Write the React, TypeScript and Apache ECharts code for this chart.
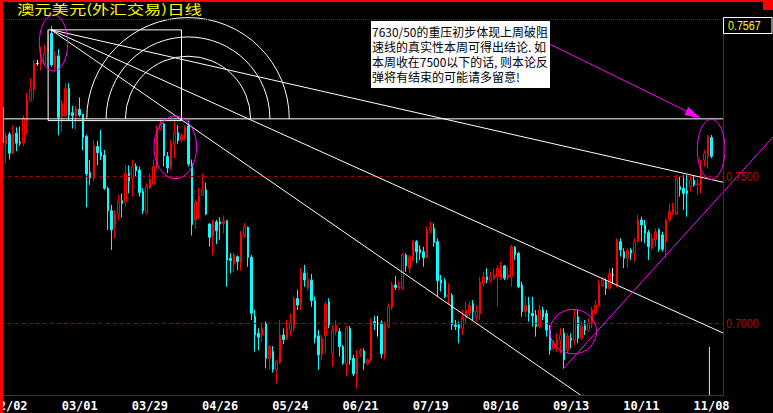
import React, { useEffect, useRef } from 'react';
import * as echarts from 'echarts';

// ---------- data ----------
const START_DATE = '2004-01-29';
const N_CATEGORIES = 206;
const TICK_LABELS = ['02/02', '03/01', '03/29', '04/26', '05/24', '06/21', '07/19', '08/16', '09/13', '10/11', '11/08'];

const OPEN = [
  0.7733,
  0.7609, 0.7642, 0.7577, 0.7645, 0.7615, 0.7613, 0.7683, 0.7758, 0.7794, 0.7882,
  0.7880, 0.7882, 0.7916, 0.7984, 0.7871, 0.7907, 0.7701, 0.7704, 0.7797, 0.7715,
  0.7704, 0.7726, 0.7709, 0.7634, 0.7511, 0.7493, 0.7600, 0.7581, 0.7571, 0.7458,
  0.7382, 0.7335, 0.7371, 0.7416, 0.7412, 0.7511, 0.7491, 0.7534, 0.7520, 0.7447,
  0.7378, 0.7459, 0.7473, 0.7532, 0.7659, 0.7677, 0.7566, 0.7532, 0.7611, 0.7647,
  0.7622, 0.7627, 0.7670, 0.7541, 0.7351, 0.7414, 0.7434, 0.7453, 0.7337, 0.7294,
  0.7344, 0.7344, 0.7339, 0.7348, 0.7220, 0.7201, 0.7226, 0.7205, 0.7300, 0.7326,
  0.7224, 0.7024, 0.6966, 0.6960, 0.6998, 0.6881, 0.6904, 0.6842, 0.6867, 0.6960,
  0.6949, 0.6977, 0.6983, 0.7084, 0.7068, 0.7170, 0.7119, 0.7147, 0.7077, 0.6957,
  0.6895, 0.6957, 0.7074, 0.6898, 0.6971, 0.6972, 0.6921, 0.6862, 0.6983, 0.6881,
  0.6828, 0.6898, 0.6906, 0.6864, 0.6873, 0.7006, 0.6998, 0.7002, 0.6896, 0.6991,
  0.7054, 0.7130, 0.7119, 0.7121, 0.7232, 0.7187, 0.7213, 0.7277, 0.7251, 0.7243,
  0.7224, 0.7315, 0.7322, 0.7277, 0.7147, 0.7145, 0.7090, 0.7095, 0.6994, 0.6994,
  0.6983, 0.7017, 0.7034, 0.7068, 0.7022, 0.7034, 0.7136, 0.7158, 0.7147, 0.7153,
  0.7158, 0.7153, 0.7195, 0.7156, 0.7158, 0.7258, 0.7238, 0.7130, 0.7040, 0.7062,
  0.7034, 0.7028, 0.6989, 0.7045, 0.7034, 0.6977, 0.6915, 0.6926, 0.6943, 0.6966,
  0.6909, 0.6949, 0.6943, 0.7022, 0.6949, 0.6991, 0.6977, 0.6998, 0.7034, 0.7062,
  0.7130, 0.7141, 0.7119, 0.7164, 0.7130, 0.7277, 0.7243, 0.7221, 0.7249, 0.7238,
  0.7277, 0.7351, 0.7334, 0.7308, 0.7255, 0.7283, 0.7317, 0.7300, 0.7277, 0.7351,
  0.7376, 0.7371, 0.7464, 0.7458, 0.7450, 0.7464, 0.7486, 0.7470, 0.7470, 0.7554,
  0.7566, 0.7631,
];
const CLOSE = [
  0.7613,
  0.7636, 0.7577, 0.7642, 0.7611, 0.7611, 0.7695, 0.7758, 0.7794, 0.7882, 0.7882,
  0.7896, 0.7916, 0.7980, 0.7877, 0.7907, 0.7699, 0.7747, 0.7797, 0.7707, 0.7705,
  0.7730, 0.7707, 0.7631, 0.7507, 0.7494, 0.7604, 0.7579, 0.7568, 0.7458, 0.7382,
  0.7317, 0.7371, 0.7414, 0.7407, 0.7509, 0.7482, 0.7532, 0.7518, 0.7444, 0.7382,
  0.7464, 0.7489, 0.7532, 0.7661, 0.7677, 0.7568, 0.7527, 0.7611, 0.7647, 0.7620,
  0.7638, 0.7666, 0.7541, 0.7335, 0.7412, 0.7434, 0.7453, 0.7371, 0.7292, 0.7344,
  0.7314, 0.7337, 0.7347, 0.7215, 0.7213, 0.7232, 0.7209, 0.7303, 0.7327, 0.7224,
  0.7034, 0.6960, 0.6953, 0.6983, 0.6881, 0.6921, 0.6844, 0.6870, 0.6960, 0.6945,
  0.6983, 0.7002, 0.7084, 0.7062, 0.7170, 0.7147, 0.7149, 0.7077, 0.6949, 0.6893,
  0.6949, 0.7066, 0.6994, 0.6977, 0.6994, 0.6921, 0.6864, 0.6983, 0.6876, 0.6828,
  0.6889, 0.6906, 0.6864, 0.6876, 0.7006, 0.6997, 0.6998, 0.6896, 0.6994, 0.7056,
  0.7130, 0.7121, 0.7127, 0.7232, 0.7195, 0.7226, 0.7277, 0.7243, 0.7240, 0.7223,
  0.7317, 0.7326, 0.7274, 0.7145, 0.7136, 0.7090, 0.7096, 0.6994, 0.6989, 0.6983,
  0.7017, 0.7045, 0.7062, 0.7040, 0.7040, 0.7140, 0.7158, 0.7147, 0.7158, 0.7164,
  0.7187, 0.7195, 0.7153, 0.7164, 0.7260, 0.7232, 0.7124, 0.7040, 0.7062, 0.7034,
  0.7025, 0.6989, 0.7045, 0.7022, 0.6977, 0.6909, 0.6932, 0.6943, 0.6960, 0.6876,
  0.6957, 0.6943, 0.7019, 0.6949, 0.6991, 0.6977, 0.7000, 0.7045, 0.7062, 0.7136,
  0.7147, 0.7119, 0.7170, 0.7164, 0.7283, 0.7249, 0.7221, 0.7247, 0.7238, 0.7277,
  0.7351, 0.7334, 0.7305, 0.7260, 0.7289, 0.7311, 0.7251, 0.7251, 0.7351, 0.7379,
  0.7396, 0.7492, 0.7453, 0.7441, 0.7441, 0.7486, 0.7470, 0.7475, 0.7509, 0.7577,
  0.7634, 0.7567,
];
const LOW = [
  0.7609,
  0.7541, 0.7556, 0.7575, 0.7584, 0.7602, 0.7602, 0.7641, 0.7753, 0.7760, 0.7875,
  0.7860, 0.7878, 0.7871, 0.7871, 0.7860, 0.7638, 0.7650, 0.7701, 0.7690, 0.7661,
  0.7656, 0.7701, 0.7588, 0.7394, 0.7470, 0.7482, 0.7537, 0.7554, 0.7453, 0.7317,
  0.7249, 0.7288, 0.7351, 0.7360, 0.7396, 0.7441, 0.7430, 0.7498, 0.7430, 0.7371,
  0.7371, 0.7457, 0.7467, 0.7523, 0.7654, 0.7532, 0.7509, 0.7520, 0.7560, 0.7609,
  0.7613, 0.7620, 0.7532, 0.7298, 0.7321, 0.7355, 0.7432, 0.7367, 0.7260, 0.7231,
  0.7269, 0.7283, 0.7305, 0.7124, 0.7170, 0.7173, 0.7181, 0.7179, 0.7290, 0.7192,
  0.7011, 0.6904, 0.6909, 0.6938, 0.6847, 0.6842, 0.6833, 0.6796, 0.6862, 0.6930,
  0.6943, 0.6955, 0.6972, 0.7045, 0.7045, 0.7124, 0.7111, 0.7056, 0.6932, 0.6842,
  0.6876, 0.6898, 0.6983, 0.6853, 0.6960, 0.6887, 0.6859, 0.6820, 0.6859, 0.6821,
  0.6779, 0.6887, 0.6842, 0.6859, 0.6870, 0.6977, 0.6955, 0.6881, 0.6878, 0.6983,
  0.7045, 0.7113, 0.7113, 0.7113, 0.7175, 0.7170, 0.7209, 0.7204, 0.7215, 0.7192,
  0.7221, 0.7305, 0.7260, 0.7090, 0.7108, 0.7085, 0.7062, 0.6977, 0.6977, 0.6932,
  0.6960, 0.7000, 0.7022, 0.7011, 0.7006, 0.7011, 0.7124, 0.7136, 0.7136, 0.7147,
  0.7056, 0.7147, 0.7147, 0.7147, 0.7124, 0.7215, 0.7119, 0.7022, 0.7022, 0.7006,
  0.6989, 0.6955, 0.6983, 0.7011, 0.6955, 0.6893, 0.6909, 0.6904, 0.6898, 0.6847,
  0.6898, 0.6915, 0.6926, 0.6932, 0.6943, 0.6960, 0.6972, 0.6983, 0.7028, 0.7056,
  0.7124, 0.7096, 0.7113, 0.7136, 0.7124, 0.7226, 0.7187, 0.7187, 0.7215, 0.7209,
  0.7272, 0.7277, 0.7272, 0.7215, 0.7249, 0.7260, 0.7243, 0.7243, 0.7221, 0.7345,
  0.7368, 0.7368, 0.7430, 0.7385, 0.7362, 0.7447, 0.7464, 0.7436, 0.7441, 0.7532,
  0.7526, 0.7560,
];
const HIGH = [
  0.7738,
  0.7647, 0.7649, 0.7672, 0.7665, 0.7668, 0.7706, 0.7783, 0.7832, 0.7894, 0.7894,
  0.7939, 0.7946, 0.7996, 0.8009, 0.7923, 0.7930, 0.7758, 0.7815, 0.7815, 0.7738,
  0.7740, 0.7767, 0.7710, 0.7640, 0.7554, 0.7622, 0.7620, 0.7656, 0.7588, 0.7464,
  0.7402, 0.7385, 0.7436, 0.7441, 0.7536, 0.7536, 0.7554, 0.7543, 0.7532, 0.7458,
  0.7475, 0.7509, 0.7554, 0.7672, 0.7688, 0.7679, 0.7582, 0.7622, 0.7685, 0.7672,
  0.7645, 0.7672, 0.7688, 0.7556, 0.7421, 0.7459, 0.7509, 0.7477, 0.7339, 0.7351,
  0.7351, 0.7360, 0.7366, 0.7351, 0.7238, 0.7240, 0.7230, 0.7314, 0.7340, 0.7328,
  0.7232, 0.7045, 0.6983, 0.7002, 0.7006, 0.6926, 0.6923, 0.6876, 0.7011, 0.6983,
  0.7011, 0.7034, 0.7090, 0.7113, 0.7187, 0.7198, 0.7175, 0.7168, 0.7090, 0.6977,
  0.6960, 0.7074, 0.7085, 0.6994, 0.7011, 0.6983, 0.6926, 0.6991, 0.6991, 0.6893,
  0.6909, 0.6915, 0.6915, 0.6881, 0.7017, 0.7025, 0.7025, 0.7011, 0.7006, 0.7068,
  0.7141, 0.7161, 0.7141, 0.7238, 0.7238, 0.7232, 0.7283, 0.7283, 0.7265, 0.7260,
  0.7328, 0.7345, 0.7339, 0.7289, 0.7164, 0.7153, 0.7136, 0.7102, 0.7011, 0.7006,
  0.7045, 0.7074, 0.7074, 0.7079, 0.7062, 0.7158, 0.7175, 0.7187, 0.7175, 0.7187,
  0.7198, 0.7209, 0.7198, 0.7192, 0.7266, 0.7262, 0.7243, 0.7141, 0.7090, 0.7090,
  0.7090, 0.7045, 0.7062, 0.7056, 0.7045, 0.6994, 0.6943, 0.6966, 0.6983, 0.6983,
  0.6966, 0.6966, 0.7045, 0.7045, 0.7006, 0.7011, 0.7017, 0.7056, 0.7079, 0.7147,
  0.7158, 0.7153, 0.7187, 0.7187, 0.7289, 0.7289, 0.7255, 0.7255, 0.7255, 0.7289,
  0.7368, 0.7362, 0.7351, 0.7317, 0.7305, 0.7322, 0.7322, 0.7311, 0.7356, 0.7407,
  0.7410, 0.7503, 0.7498, 0.7503, 0.7503, 0.7498, 0.7503, 0.7492, 0.7554, 0.7588,
  0.7639, 0.7639,
];

const PRICE_LINES = [0.75, 0.7];
const PRICE_MIN = 0.675662;
const PRICE_MAX = 0.803293;

const TITLE = '澳元美元(外汇交易)日线';
const NOTE_LINES = [
  '7630/50的重压初步体现上周破阻',
  '速线的真实性本周可得出结论. 如',
  '本周收在7500以下的话, 则本论反',
  '弹将有结束的可能请多留意!',
];

// annotations, anchored as [bar index (0 = 01/30), price]
const FAN_ORIGIN: [number, number] = [12.7, 0.7997];
const FAN_TARGETS: [number, number][] = [[204.2, 0.7479], [204.85, 0.6964], [163.6, 0.6757]];
const FIB_END: [number, number] = [51.85, 0.7694];
const FIB_RATIOS = [0.382, 0.5, 0.618];
const LEVEL_LINE = 0.7694;
const BOX: [number, number][] = [[12, 0.7996], [50, 0.7688]];
const SUPPORT: [number, number][] = [[158.6, 0.6844], [204.85, 0.74525]];
const ARROW: [number, number][] = [[154.5, 0.795], [197.5, 0.7699]];
// [bar, price, half-width in bars, half-height in price]
const ELLIPSES: number[][] = [
  [13.53, 0.79515, 4.05, 0.0095],
  [48.23, 0.75974, 6.07, 0.01062],
  [161.6, 0.69718, 6.64, 0.00754],
  [200.9, 0.75906, 3.93, 0.01018],
];
const MARKER_BAR: [number, number] = [200.4, 0.692];

// ---------- layout ----------
const W = 773;
const H = 413;
const PLOT = { left: 3, top: 19, right: 723, bottom: 395 };

function weekdayLabels(start: string, n: number): string[] {
  const out: string[] = [];
  const d = new Date(start + 'T00:00:00Z');
  while (out.length < n) {
    const wd = d.getUTCDay();
    if (wd !== 0 && wd !== 6) {
      out.push(String(d.getUTCMonth() + 1).padStart(2, '0') + '/' + String(d.getUTCDate()).padStart(2, '0'));
    }
    d.setUTCDate(d.getUTCDate() + 1);
  }
  return out;
}

let measureCtx: CanvasRenderingContext2D | null = null;
function measure(text: string, font: string): number {
  if (!measureCtx) measureCtx = document.createElement('canvas').getContext('2d');
  if (!measureCtx) return text.length * 10;
  measureCtx.font = font;
  return measureCtx.measureText(text).width;
}

function extendTo(p0: number[], p1: number[], xMax: number, yMax: number): number[] {
  const dx = p1[0] - p0[0];
  const dy = p1[1] - p0[1];
  let t = dx > 0 ? (xMax - p0[0]) / dx : Infinity;
  if (dy > 0) t = Math.min(t, (yMax - p0[1]) / dy);
  return [p0[0] + t * dx, p0[1] + t * dy];
}

function buildGraphic(chart: any): any[] {
  const finder = { seriesIndex: 0 };
  const toPx = (i: number, p: number): number[] => {
    const a = chart.convertToPixel(finder, [0, p]) as number[];
    const b = chart.convertToPixel(finder, [1, p]) as number[];
    return [a[0] + (i + 1) * (b[0] - a[0]), a[1]];
  };
  const band = toPx(1, 0.75)[0] - toPx(0, 0.75)[0];
  const els: any[] = [];
  const line = (x1: number, y1: number, x2: number, y2: number, stroke: string, extra: any = {}) => ({
    type: 'line', z: 100, silent: true,
    shape: { x1, y1, x2, y2 },
    style: { stroke, lineWidth: 1, ...extra },
  });
  const text = (x: number, y: number, t: string, fill: string, size: number, family: string, scaleX: number, z = 120, lineHeight?: number) => ({
    type: 'text', z, silent: true, x, y, scaleX,
    style: {
      text: t, fill, fontSize: size, fontFamily: family,
      align: 'left', verticalAlign: 'middle', textAlign: 'left', textVerticalAlign: 'middle',
      ...(lineHeight ? { lineHeight } : {}),
    },
  });

  // horizontal level line
  const yLevel = toPx(0, LEVEL_LINE)[1];
  els.push(line(PLOT.left, yLevel, PLOT.right, yLevel, '#ffffff'));

  // box
  const b0 = toPx(BOX[0][0], BOX[0][1]);
  const b1 = toPx(BOX[1][0], BOX[1][1]);
  els.push({
    type: 'rect', z: 100, silent: true,
    shape: { x: b0[0], y: b0[1], width: b1[0] - b0[0], height: b1[1] - b0[1] },
    style: { stroke: '#ffffff', fill: 'none', lineWidth: 1 },
  });

  // fan lines
  const o = toPx(FAN_ORIGIN[0], FAN_ORIGIN[1]);
  FAN_TARGETS.forEach((t) => {
    const e = extendTo(o, toPx(t[0], t[1]), PLOT.right, PLOT.bottom);
    els.push(line(o[0], o[1], e[0], e[1], '#ffffff'));
  });

  // fibonacci arcs
  const c = toPx(FIB_END[0], FIB_END[1]);
  const dist = Math.hypot(c[0] - o[0], c[1] - o[1]);
  FIB_RATIOS.forEach((r) => {
    els.push({
      type: 'arc', z: 100, silent: true,
      shape: { cx: c[0], cy: c[1], r: r * dist, startAngle: Math.PI, endAngle: Math.PI * 2, clockwise: true },
      style: { stroke: '#ffffff', fill: 'none', lineWidth: 1 },
    });
  });

  // ellipses
  ELLIPSES.forEach((e) => {
    const ce = toPx(e[0], e[1]);
    const ry = toPx(e[0], e[1] - e[3])[1] - ce[1];
    els.push({
      type: 'ellipse', z: 101, silent: true,
      shape: { cx: ce[0], cy: ce[1], rx: e[2] * band, ry },
      style: { stroke: '#ff00ff', fill: 'none', lineWidth: 1 },
    });
  });

  // support line
  const s0 = toPx(SUPPORT[0][0], SUPPORT[0][1]);
  const s1 = extendTo(s0, toPx(SUPPORT[1][0], SUPPORT[1][1]), W, 10000);
  els.push(line(s0[0], s0[1], s1[0], s1[1], '#ff00ff'));

  // arrow
  const a0 = toPx(ARROW[0][0], ARROW[0][1]);
  const a1 = toPx(ARROW[1][0], ARROW[1][1]);
  const len = Math.hypot(a1[0] - a0[0], a1[1] - a0[1]);
  const ux = (a1[0] - a0[0]) / len;
  const uy = (a1[1] - a0[1]) / len;
  const bx = a1[0] - 14 * ux;
  const by = a1[1] - 14 * uy;
  els.push(line(a0[0], a0[1], bx, by, '#ff00ff'));
  els.push({
    type: 'polygon', z: 101, silent: true,
    shape: { points: [[a1[0], a1[1]], [bx - 4 * uy, by + 4 * ux], [bx + 4 * uy, by - 4 * ux]] },
    style: { fill: '#ff00ff', stroke: '#ff00ff', lineWidth: 1 },
  });

  // yellow marker
  const m = toPx(MARKER_BAR[0], MARKER_BAR[1]);
  els.push(line(m[0], m[1], m[0], PLOT.bottom, '#ffff00'));

  // frame
  els.push(line(PLOT.left, PLOT.top + 0.5, PLOT.right, PLOT.top + 0.5, '#a00000', { lineDash: [1, 1] }));
  els.push(line(PLOT.right + 0.5, PLOT.top, PLOT.right + 0.5, PLOT.bottom + 0.5, '#b00000'));
  els.push(line(PLOT.left, PLOT.bottom + 0.5, PLOT.right + 0.5, PLOT.bottom + 0.5, '#b00000'));
  els.push({ type: 'rect', z: 130, silent: true, shape: { x: 0, y: 0, width: 3, height: H }, style: { fill: '#ff0000' } });
  els.push({ type: 'rect', z: 130, silent: true, shape: { x: 0, y: 0, width: W, height: 2 }, style: { fill: '#ff0000' } });
  els.push({ type: 'rect', z: 130, silent: true, shape: { x: 763, y: 0, width: 10, height: 10 }, style: { fill: '#ff0000' } });

  // price labels
  const numFont = 'Liberation Sans';
  const numScale = 32.7 / measure('0.7500', '13px "' + numFont + '"');
  PRICE_LINES.forEach((p) => {
    const y = toPx(0, p)[1];
    els.push(text(726, y + 0.5, p.toFixed(4), '#c00000', 13, numFont, numScale));
  });
  els.push({
    type: 'rect', z: 110, silent: true,
    shape: { x: 723.5, y: 17.5, width: 48.5, height: 16 },
    style: { stroke: '#ffffff', fill: '#000000', lineWidth: 1 },
  });
  els.push(text(728, 25.5, CLOSE[CLOSE.length - 1].toFixed(4), '#ffff00', 13, numFont, numScale));

  // title
  const cjk = 'Noto Sans CJK SC';
  const titleScale = 185 / measure(TITLE, '13px "' + cjk + '"');
  els.push(text(17, 8, TITLE, '#ffff00', 13, cjk, titleScale, 140, 13));

  // note box
  els.push({ type: 'rect', z: 110, silent: true, shape: { x: 371, y: 21, width: 179, height: 67 }, style: { fill: '#ffffff' } });
  NOTE_LINES.forEach((t, k) => {
    const w = measure(t, '12px "' + cjk + '"');
    const s = Math.min(1, 176 / w);
    els.push(text(372, 31 + 15 * k, t, '#000000', 12, cjk, s));
  });

  return els;
}

export default function App() {
  const ref = useRef<HTMLDivElement>(null);
  useEffect(() => {
    if (!ref.current) return;
    const chart = echarts.init(ref.current, null, { renderer: 'svg' });
    const categories = weekdayLabels(START_DATE, N_CATEGORIES);
    const data = OPEN.map((o, k) => [o, CLOSE[k], LOW[k], HIGH[k]]);
    chart.setOption({
      backgroundColor: '#000000',
      animation: false,
      grid: { left: 0.745, top: 19, width: 723.06, height: 376, containLabel: false, outerBoundsMode: 'none' },
      xAxis: {
        type: 'category',
        data: categories,
        boundaryGap: true,
        axisLine: { show: false },
        axisTick: { show: false },
        splitLine: { show: false },
        axisLabel: {
          interval: (_idx: number, val: string) => TICK_LABELS.indexOf(val) >= 0,
          color: '#ffffff',
          fontFamily: 'DejaVu Sans Mono',
          fontWeight: 'bold',
          fontSize: 12,
          margin: 5,
          hideOverlap: false,
        },
      },
      yAxis: {
        type: 'value',
        min: PRICE_MIN,
        max: PRICE_MAX,
        show: false,
        splitLine: { show: false },
      },
      series: [
        {
          type: 'candlestick',
          data,
          barWidth: 2,
          silent: true,
          itemStyle: {
            color: '#000000',
            color0: '#00ffff',
            borderColor: '#ff0000',
            borderColor0: '#00ffff',
            borderColorDoji: '#ffffff',
            borderWidth: 1,
          },
          markLine: {
            silent: true,
            symbol: ['none', 'none'],
            label: { show: false },
            lineStyle: { color: '#a00000', type: [4, 3], width: 1 },
            data: PRICE_LINES.map((p) => ({ yAxis: p })),
          },
        },
      ],
    });
    chart.setOption({ graphic: buildGraphic(chart) });
    return () => chart.dispose();
  }, []);
  return <div ref={ref} style={{ position: 'fixed', left: 0, top: 0, width: W, height: H }} />;
}
